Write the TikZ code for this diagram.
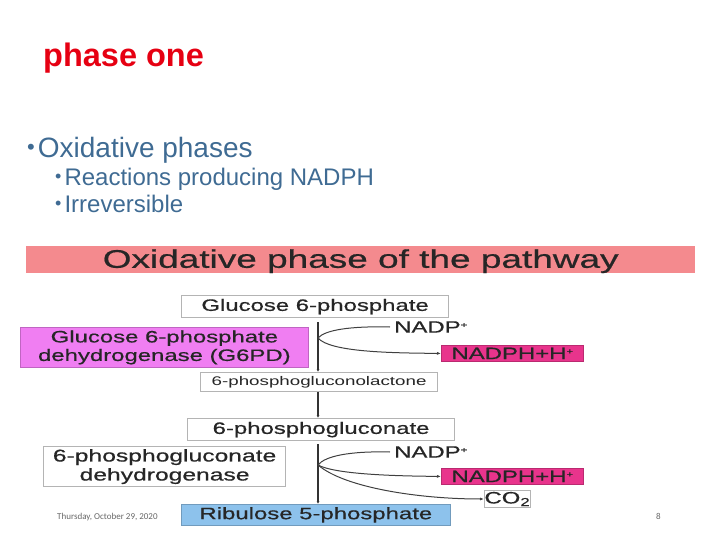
\documentclass[tikz,border=0pt]{standalone}
\usepackage{fontspec}
\setmainfont{Liberation Sans}
\newfontfamily\dg[FakeStretch=1.5]{Liberation Sans}
\newfontfamily\dgb[FakeStretch=1.45,FakeBold=0.6]{Liberation Sans}
\newfontfamily\footfont{Carlito}
\usetikzlibrary{arrows.meta}
\definecolor{titlered}{HTML}{E60012}
\definecolor{bultxt}{HTML}{3F6B93}
\definecolor{banner}{HTML}{F48A8E}
\definecolor{violetbox}{HTML}{F07EF2}
\definecolor{pinkbox}{HTML}{E8348C}
\definecolor{bluebox}{HTML}{8DC2EC}
\definecolor{boxgray}{HTML}{B4B4B4}
\newcommand{\plussup}{\raisebox{5pt}{\fontsize{8}{8}\selectfont +}}
\newcommand{\bul}[2]{\raisebox{#2}{\fontsize{#1}{#1}\selectfont •}\hspace{3pt}}
\tikzset{
  wbox/.style={draw=boxgray, line width=1.2pt, fill=white, inner sep=0pt, font=\dgb\fontsize{16.5}{18.5}\selectfont, text=black!85},
  cbox/.style={draw=#1!80!black, line width=0.8pt, fill=#1, inner sep=0pt, font=\dgb\fontsize{16.5}{18.5}\selectfont, text=black!85},
  lbl/.style={inner sep=0pt, font=\dgb\fontsize{16.5}{18.5}\selectfont, text=black!85},
  stem/.style={line width=1.6pt, black!80},
  cur/.style={line width=1pt, black!75},
  tip/.style={-{Latex[length=4pt,width=3pt]}}
}
\begin{document}
\begin{tikzpicture}[x=1pt,y=-1pt]
\useasboundingbox (0,0) rectangle (720,540);
% title and bullets
\node[anchor=base west, inner sep=0pt, text=titlered, font=\bfseries\fontsize{32.5}{35}\selectfont] (title) at (43,67) {phase one};
\node[anchor=base west, inner sep=0pt, text=bultxt, font=\fontsize{28}{30}\selectfont] (b1) at (27,158) {\bul{22}{3pt}Oxidative phases};
\node[anchor=base west, inner sep=0pt, text=bultxt, font=\fontsize{24}{26}\selectfont] (b2) at (55,186) {\bul{18}{3pt}Reactions producing NADPH};
\node[anchor=base west, inner sep=0pt, text=bultxt, font=\fontsize{24}{26}\selectfont] (b3) at (55,213) {\bul{18}{3pt}Irreversible};
% banner
\node[fill=banner, minimum width=669pt, minimum height=27pt, inner sep=0pt, anchor=north west] (ban) at (26,246) {};
\node[inner sep=0pt, font=\dgb\fontsize{25.5}{27}\selectfont, text=black!85] (bantxt) at ([yshift=-1.5pt]ban.center) {Oxidative phase of the pathway};
% boxes
\node[wbox, minimum width=267pt, minimum height=22pt, anchor=north west] (g6p) at (181,295) {Glucose 6-phosphate};
\node[cbox=violetbox, minimum width=288pt, minimum height=40pt, anchor=north west, align=center] (g6pd) at (20,327) {Glucose 6-phosphate\\dehydrogenase (G6PD)};
\node[lbl, anchor=west] (nadp1) at (394,327) {NADP\plussup};
\node[cbox=pinkbox, minimum width=142pt, minimum height=16pt, anchor=north west] (nadph1) at (441,345) {NADPH+H\plussup};
\node[wbox, minimum width=237pt, minimum height=19pt, anchor=north west, font=\dg\fontsize{12.5}{14}\selectfont] (pgl) at (200,372) {6-phosphogluconolactone};
\node[wbox, minimum width=267pt, minimum height=22pt, anchor=north west] (pg) at (187,418) {6-phosphogluconate};
\node[wbox, minimum width=242pt, minimum height=40pt, anchor=north west, align=center, font=\dgb\fontsize{17}{19}\selectfont] (pgd) at (43,446) {6-phosphogluconate\\dehydrogenase};
\node[lbl, anchor=west] (nadp2) at (394,452) {NADP\plussup};
\node[cbox=pinkbox, minimum width=142pt, minimum height=16pt, anchor=north west] (nadph2) at (441,468) {NADPH+H\plussup};
\node[wbox, line width=1pt, minimum width=36pt, minimum height=17pt, anchor=north west] (co2) at (484,490) {CO\textsubscript{2}};
\node[cbox=bluebox, minimum width=269pt, minimum height=21pt, anchor=north west] (rib) at (181,504) {Ribulose 5-phosphate};
% stems
\coordinate (j1) at (318,338);
\coordinate (j2) at (318,465);
\draw[stem, -{Latex[length=3pt,width=3pt]}] (318,322) -- (pgl.north -| 318,0);
\draw[stem, -{Latex[length=3pt,width=3pt]}] (pgl.south -| 318,0) -- (pg.north -| 318,0);
\draw[stem, -{Latex[length=3pt,width=3pt]}] (318,444) -- (rib.north -| 318,0);
% curves
\draw[cur] (nadp1.west) ++(-4,0) coordinate (n1) .. controls (350,326) and (325,330) .. (j1);
\draw[cur, tip] (j1) .. controls (330,352) and (390,353) .. (nadph1.west);
\draw[cur] (nadp2.west) ++(-4,0) coordinate (n2) .. controls (350,451) and (325,456) .. (j2);
\draw[cur, tip] (j2) .. controls (335,474) and (390,476) .. (nadph2.west);
\draw[cur, tip] (j2) .. controls (345,488) and (420,499) .. (co2.west);
% footer
\node[anchor=base west, inner sep=0pt, text=black!60, font=\footfont\fontsize{9}{10}\selectfont] (date) at (57,519) {Thursday, October 29, 2020};
\node[anchor=base west, inner sep=0pt, text=black!60, font=\footfont\fontsize{9}{10}\selectfont] (pnum) at (656,519) {8};
\end{tikzpicture}
\end{document}
